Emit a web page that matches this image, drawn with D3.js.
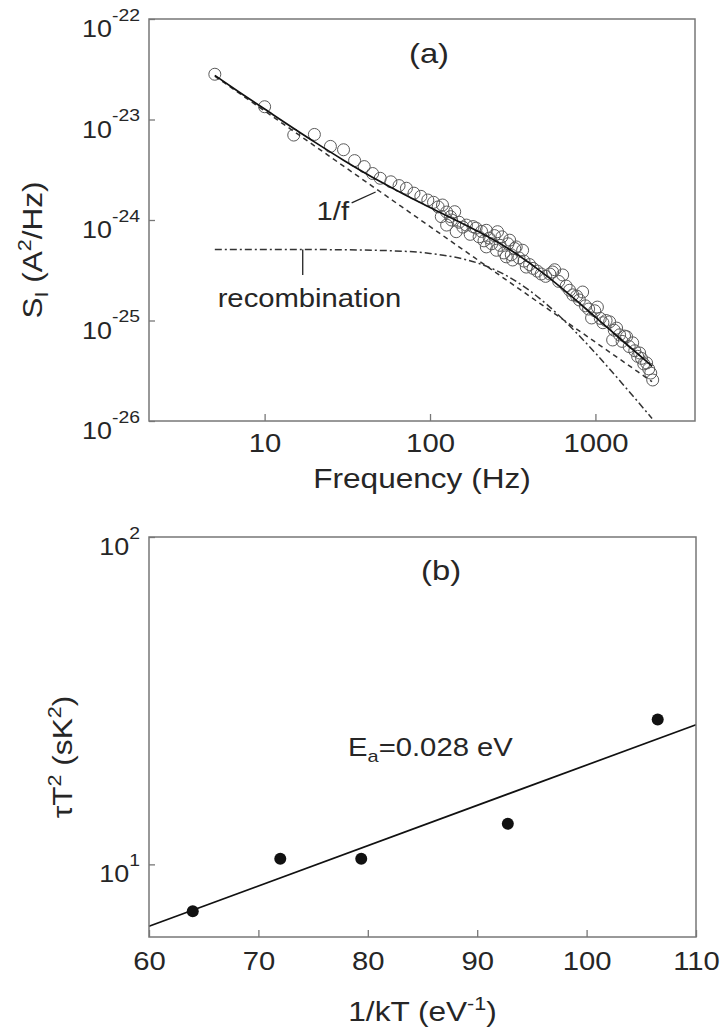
<!DOCTYPE html>
<html>
<head>
  <meta charset="utf-8">
  <title>Noise spectrum and recombination time</title>
  <style>
  body {
    margin: 0;
    background: #fff;
  }
  svg text {
    font-family: "Liberation Sans", Arial, sans-serif;
    fill: #262626;
    white-space: pre;
  }
</style>
</head>

<body>
  <div id="viz"></div>

  <script src="https://d3js.org/d3.v7.min.js"></script>
  <script>
    // ---- panel (a): measured current noise spectrum ----
    const noiseFreq = [5, 10, 15, 20, 25, 30, 35, 40, 45, 50,
      58, 65, 72, 80, 88, 97, 105, 112, 117, 119,
      126, 126, 133, 135, 141, 144, 150, 158, 166, 175,
      182, 190, 198, 205, 212, 219, 219, 228, 236, 245,
      252, 256, 265, 272, 280, 289, 296, 303, 310, 316,
      325, 332, 345, 363, 370, 382, 400, 420, 445, 470,
      500, 530, 551, 567, 600, 634, 665, 698, 730, 770,
      800, 837, 870, 910, 948, 990, 1028, 1070, 1110, 1160,
      1219, 1271, 1300, 1343, 1400, 1450, 1500, 1544, 1600, 1680,
      1730, 1800, 1851, 1900, 1960, 2040, 2100, 2160, 2220];
    const noisePSD = [2.82e-23, 1.34e-23, 7.0e-24, 7.1e-24, 5.4e-24, 5.0e-24, 3.9e-24, 3.4e-24, 2.9e-24, 2.6e-24,
      2.4e-24, 2.2e-24, 2.07e-24, 1.85e-24, 1.72e-24, 1.58e-24, 1.5e-24, 1.35e-24, 1.08e-24, 1.41e-24,
      1.2e-24, 8.9e-25, 1.08e-24, 1.0e-24, 1.21e-24, 7.65e-25, 9.5e-25, 8.5e-25, 8.9e-25, 7.2e-25,
      8.6e-25, 8.3e-25, 6.8e-25, 7.7e-25, 6.2e-25, 7.9e-25, 5.4e-25, 6.6e-25, 5.8e-25, 7.0e-25,
      5.0e-25, 7.65e-25, 5.6e-25, 6.8e-25, 4.7e-25, 4.3e-25, 5.8e-25, 6.3e-25, 4.5e-25, 4.0e-25,
      5.2e-25, 5.4e-25, 4.2e-25, 5.0e-25, 3.9e-25, 3.4e-25, 3.6e-25, 3.3e-25, 3.1e-25, 2.9e-25,
      2.75e-25, 2.9e-25, 3.04e-25, 3.2e-25, 2.45e-25, 2.84e-25, 2.2e-25, 2.0e-25, 1.8e-25, 1.75e-25,
      1.6e-25, 1.92e-25, 1.4e-25, 1.3e-25, 1.06e-25, 1.25e-25, 1.36e-25, 1.05e-25, 9.5e-26, 1.0e-25,
      9.7e-26, 6.4e-26, 8.0e-26, 8.4e-26, 7.2e-26, 6.2e-26, 7.0e-26, 6.9e-26, 5.5e-26, 6.0e-26,
      5.0e-26, 4.4e-26, 4.75e-26, 4.2e-26, 3.7e-26, 3.78e-26, 3.3e-26, 3.0e-26, 2.56e-26];

    // fitted total (solid line)
    const fitFreq = [5, 7, 10, 20, 30, 50, 70, 100, 150, 200, 300, 500, 700, 1000, 1500, 2200];
    const fitTotal = [2.75e-23, 1.88e-23, 1.27e-23, 5.99e-24, 3.94e-24, 2.41e-24, 1.79e-24, 1.33e-24,
      9.6e-25, 7.55e-25, 5.14e-25, 2.83e-25, 1.8e-25, 1.08e-25, 6.04e-26, 3.52e-26];
    // 1/f component (dashed)
    const flickerFreq = [5, 50, 500, 2200];
    const flicker = [2.7e-23, 1.91e-24, 1.35e-25, 2.46e-26];
    // recombination component (dash-dot)
    const recombFreq = [5, 20, 50, 100, 150, 200, 300, 500, 700, 1000, 1500, 2200];
    const recomb = [5.1e-25, 5.08e-25, 4.98e-25, 4.65e-25, 4.18e-25, 3.67e-25, 2.71e-25,
      1.48e-25, 8.8e-26, 4.74e-26, 2.22e-26, 1.06e-26];

    const freqTicks = [10, 100, 1000];
    const psdTicks = [1e-26, 1e-25, 1e-24, 1e-23, 1e-22];

    // ---- panel (b): tau*T^2 vs 1/kT ----
    const invKT = [64.0, 72.0, 79.4, 92.8, 106.5];
    const tauT2 = [7.19, 10.4, 10.4, 13.3, 27.7];
    const fitInvKT = [60, 110];
    const fitTauT2 = [6.47, 26.7];
    const invKTTicks = [60, 70, 80, 90, 100, 110];
    const tauTicks = [10, 100];

    // ---- drawing ----
    const frameColor = "#777";
    const SX = 1.17;   // the original lettering is wide

    const svg = d3.select("#viz")
      .append("svg")
      .attr("width", 721)
      .attr("height", 1032);

    // text with sub/superscripts, stretched horizontally
    function richText(parent, x, y, parts, size, opts = {}) {
      const raise = opts.raise || 0.42;
      const small = opts.small || 0.68;
      const t = parent.append("text")
        .attr("transform", `translate(${x},${y}) rotate(${opts.rotate || 0}) scale(${SX},1)`)
        .attr("text-anchor", opts.anchor || "start")
        .style("font-size", size + "px");
      let shift = 0;
      parts.forEach(p => {
        const [str, kind] = Array.isArray(p) ? p : [p, ""];
        const target = kind === "sup" ? -size * raise : kind === "sub" ? size * 0.22 : 0;
        t.append("tspan")
          .attr("dy", target - shift)
          .style("font-size", kind ? (size * small) + "px" : null)
          .text(str);
        shift = target;
      });
      return t;
    }

    function logLabel(v) {
      return [["10"], [String(Math.round(Math.log10(v))), "sup"]];
    }

    // ===== panel (a) =====
    const A = {left: 149, top: 19, width: 546, height: 402};
    const gA = svg.append("g").attr("transform", `translate(${A.left},${A.top})`);

    const xA = d3.scaleLog().domain([2, 4000]).range([0, A.width]);
    const yA = d3.scaleLog().domain([1e-26, 1e-22]).range([A.height, 0]);

    gA.append("clipPath").attr("id", "clipA")
      .append("rect").attr("width", A.width).attr("height", A.height);

    let xAxisA = gA.append("g")
      .attr("transform", `translate(0,${A.height})`)
      .call(d3.axisBottom(xA).tickValues(freqTicks).tickSize(-7).tickPadding(13).tickFormat(d3.format("d")));
    let yAxisA = gA.append("g")
      .call(d3.axisLeft(yA).tickValues(psdTicks).tickSize(-6).tickFormat(""));

    [xAxisA, yAxisA].forEach(ax => {
      ax.attr("font-size", null).attr("font-family", null);
      ax.select(".domain").remove();
      ax.selectAll(".tick line").attr("stroke", frameColor).attr("stroke-width", 1.3);
    });
    xAxisA.selectAll(".tick text")
      .attr("fill", null)
      .style("font-size", "25px")
      .attr("transform", `scale(${SX},1)`);

    psdTicks.forEach(v => {
      richText(gA, -9, yA(v) + 18, logLabel(v), 23, {anchor: "end", raise: 0.7, small: 0.72});
    });

    let plotA = gA.append("g").attr("clip-path", "url(#clipA)");

    let lineA = d3.line()
      .x(d => xA(d[0]))
      .y(d => yA(d[1]))
      .curve(d3.curveMonotoneX);

    // data circles
    plotA.append("g")
      .selectAll("circle")
      .data(d3.zip(noiseFreq, noisePSD))
      .join("circle")
      .attr("cx", d => xA(d[0]))
      .attr("cy", d => yA(d[1]))
      .attr("r", 6)
      .attr("fill", "none")
      .attr("stroke", "#5a5a5a")
      .attr("stroke-width", 1);

    plotA.append("path")
      .attr("d", lineA(d3.zip(flickerFreq, flicker)))
      .attr("fill", "none")
      .attr("stroke", "#333")
      .attr("stroke-width", 1.5)
      .attr("stroke-dasharray", "5,4");

    plotA.append("path")
      .attr("d", lineA(d3.zip(recombFreq, recomb)))
      .attr("fill", "none")
      .attr("stroke", "#333")
      .attr("stroke-width", 1.5)
      .attr("stroke-dasharray", "7,3,2,3");

    plotA.append("path")
      .attr("d", lineA(d3.zip(fitFreq, fitTotal)))
      .attr("fill", "none")
      .attr("stroke", "#111")
      .attr("stroke-width", 1.7);

    // annotations
    gA.append("line")
      .attr("x1", xA(33.6)).attr("y1", yA(1.48e-24))
      .attr("x2", xA(46.9)).attr("y2", yA(1.9e-24))
      .attr("stroke", "#222").attr("stroke-width", 1.3);
    richText(gA, xA(20.6), yA(1e-24), ["1/f"], 25);

    gA.append("line")
      .attr("x1", xA(17)).attr("y1", yA(5.1e-25))
      .attr("x2", xA(17)).attr("y2", yA(2.84e-25))
      .attr("stroke", "#222").attr("stroke-width", 1.3);
    richText(gA, xA(5.2), yA(1.36e-25), ["recombination"], 25);

    richText(gA, A.width / 2 + 7, 44, ["(a)"], 28, {anchor: "middle"});

    gA.append("rect")
      .attr("width", A.width)
      .attr("height", A.height)
      .attr("fill", "none")
      .attr("stroke", frameColor)
      .attr("stroke-width", 1.5);

    // axis titles
    richText(svg, A.left + A.width / 2, 488, ["Frequency (Hz)"], 27, {anchor: "middle"});
    richText(svg, 42, 250, [["S"], ["I", "sub"], [" (A"], ["2", "sup"], ["/Hz)"]], 27,
      {anchor: "middle", rotate: -90});

    // ===== panel (b) =====
    const B = {left: 149, top: 537, width: 547, height: 400};
    const gB = svg.append("g").attr("transform", `translate(${B.left},${B.top})`);

    const xB = d3.scaleLinear().domain([60, 110]).range([0, B.width]);
    const yB = d3.scaleLog().domain([6, 100]).range([B.height, 0]);

    let xAxisB = gB.append("g")
      .attr("transform", `translate(0,${B.height})`)
      .call(d3.axisBottom(xB).tickValues(invKTTicks).tickSize(-7).tickPadding(15).tickFormat(d3.format("d")));
    let yAxisB = gB.append("g")
      .call(d3.axisLeft(yB).tickValues(tauTicks).tickSize(-6).tickFormat(""));

    [xAxisB, yAxisB].forEach(ax => {
      ax.attr("font-size", null).attr("font-family", null);
      ax.select(".domain").remove();
      ax.selectAll(".tick line").attr("stroke", frameColor).attr("stroke-width", 1.3);
    });
    xAxisB.selectAll(".tick text")
      .attr("fill", null)
      .style("font-size", "25px")
      .attr("transform", `scale(${SX},1)`);

    tauTicks.forEach(v => {
      richText(gB, -9, yB(v) + 18, logLabel(v), 23, {anchor: "end", raise: 0.7, small: 0.72});
    });

    let lineB = d3.line()
      .x(d => xB(d[0]))
      .y(d => yB(d[1]));

    gB.append("path")
      .attr("d", lineB(d3.zip(fitInvKT, fitTauT2)))
      .attr("fill", "none")
      .attr("stroke", "#111")
      .attr("stroke-width", 1.7);

    gB.append("g")
      .selectAll("circle")
      .data(d3.zip(invKT, tauT2))
      .join("circle")
      .attr("cx", d => xB(d[0]))
      .attr("cy", d => yB(d[1]))
      .attr("r", 6)
      .attr("fill", "#111");

    richText(gB, xB(78.2), yB(21.4), [["E"], ["a", "sub"], ["=0.028 eV"]], 25);
    richText(gB, xB(86.7), 43, ["(b)"], 28, {anchor: "middle"});

    gB.append("rect")
      .attr("width", B.width)
      .attr("height", B.height)
      .attr("fill", "none")
      .attr("stroke", frameColor)
      .attr("stroke-width", 1.5);

    richText(svg, B.left + B.width / 2, 1021, [["1/kT (eV"], ["-1", "sup"], [")"]], 27, {anchor: "middle"});
    richText(svg, 72, 757, [["\u03c4T"], ["2", "sup"], [" (sK"], ["2", "sup"], [")"]], 27,
      {anchor: "middle", rotate: -90});
  </script>

</body>
</html>
